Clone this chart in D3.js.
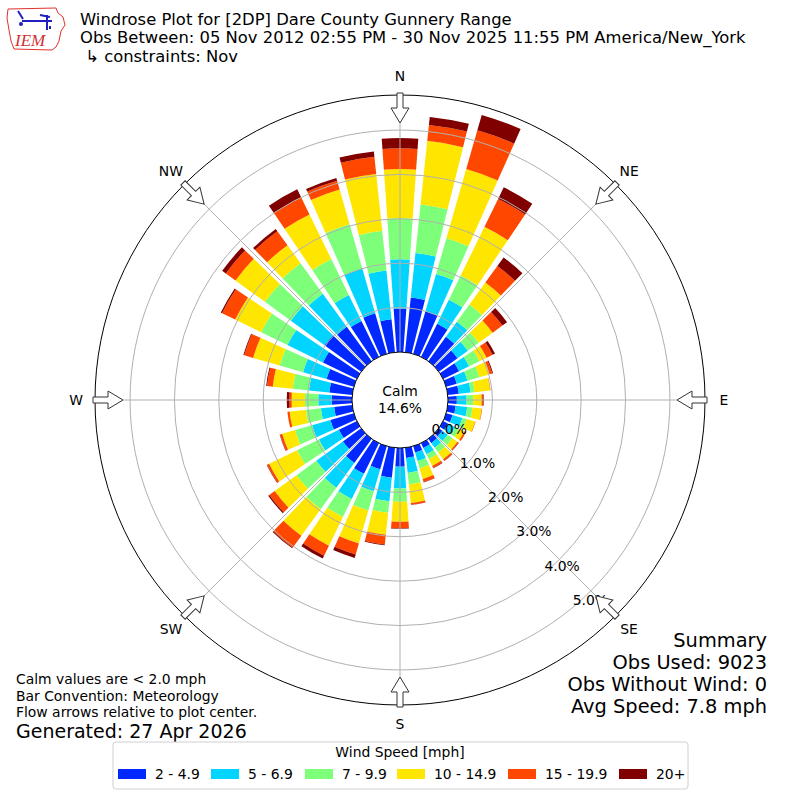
<!DOCTYPE html>
<html>
<head>
<meta charset="utf-8">
<script src="https://cdn.jsdelivr.net/npm/d3@7/dist/d3.min.js"></script>
<style>
  body { margin: 0; background: #fff; }
  svg { font-family: "DejaVu Sans", sans-serif; }
</style>
</head>
<body>
<div id="chart"></div>
<script>
// wind directions (deg, meteorological) and speed bins
const directions = d3.range(0, 360, 10);
const speedBins = ["2 - 4.9", "5 - 6.9", "7 - 9.9", "10 - 14.9", "15 - 19.9", "20+"];
const binColors = ["#0028ff", "#00d4ff", "#7dff7a", "#ffe600", "#ff4700", "#800000"];

// percent of obs per direction, one array per speed bin
const pct2to5   = [0.98,1.24,1.00,0.83,0.68,0.52,0.40,0.25,0.25,0.20,0.18,0.15,0.12,0.10,0.12,0.12,0.15,0.23,
                   0.42,0.68,0.54,0.77,0.67,0.51,0.45,0.55,0.41,0.46,0.52,0.64,0.85,1.02,0.96,0.90,0.95,0.75];
const pct5to7   = [1.11,1.01,0.87,0.60,0.42,0.29,0.25,0.25,0.27,0.22,0.26,0.23,0.18,0.15,0.13,0.16,0.20,0.34,
                   0.49,0.53,0.52,0.63,0.69,0.74,0.50,0.43,0.30,0.30,0.46,0.55,0.89,0.94,0.92,0.65,1.05,1.10];
const pct7to10  = [0.93,1.10,0.84,0.61,0.48,0.30,0.26,0.28,0.09,0.15,0.12,0.10,0.10,0.13,0.13,0.12,0.17,0.26,
                   0.30,0.26,0.45,0.45,0.60,0.55,0.55,0.40,0.34,0.30,0.37,0.55,0.66,0.72,0.85,0.90,1.04,0.90];
const pct10to15 = [1.10,1.44,1.62,1.22,0.61,0.39,0.18,0.24,0.35,0.19,0.21,0.20,0.13,0.14,0.19,0.17,0.25,0.42,
                   0.45,0.50,0.77,0.72,0.74,0.61,0.70,0.30,0.37,0.30,0.45,0.62,0.65,0.82,0.50,1.12,0.81,1.29];
const pct15to20 = [0.47,0.36,0.91,0.70,0.46,0.27,0.15,0.06,0.01,0.04,0.01,0.01,0.04,0.03,0.04,0.05,0.07,0.04,
                   0.15,0.22,0.26,0.25,0.33,0.15,0.05,0.05,0.05,0.05,0.13,0.21,0.33,0.27,0.39,0.43,0.21,0.39];
const pct20up   = [0.23,0.18,0.36,0.29,0.24,0.13,0.06,0.02,0.00,0.01,0.00,0.00,0.00,0.01,0.01,0.01,0.01,0.01,
                   0.01,0.02,0.08,0.07,0.02,0.03,0.01,0.01,0.00,0.06,0.02,0.02,0.03,0.10,0.06,0.20,0.06,0.12];

const ringTicks = [0, 1, 2, 3, 4, 5];
const compassLabels = ["N", "NE", "E", "SE", "S", "SW", "W", "NW"];
const titleLines = [
  "Windrose Plot for [2DP] Dare County Gunnery Range",
  "Obs Between: 05 Nov 2012 02:55 PM - 30 Nov 2025 11:55 PM America/New_York",
  " \u21b3 constraints: Nov"
];
const summaryLines = ["Summary", "Obs Used: 9023", "Obs Without Wind: 0", "Avg Speed: 7.8 mph"];
const noteLines = ["Calm values are < 2.0 mph", "Bar Convention: Meteorology", "Flow arrows relative to plot center."];
const calmPct = "14.6%";

const width = 800, height = 800, cx = 400, cy = 400;
const rad = d => d * Math.PI / 180;
const small = "13.9px";

const svg = d3.select("#chart").append("svg")
  .attr("width", width).attr("height", height);

// radial scale: calm circle is the zero ring
const r = d3.scaleLinear().domain([0, 5.79]).range([48, 305]);

const keys = ["b0", "b1", "b2", "b3", "b4", "b5"];
const series = [pct2to5, pct5to7, pct7to10, pct10to15, pct15to20, pct20up];
const rows = directions.map((dir, i) => {
  const o = {dir: dir};
  keys.forEach((k, j) => o[k] = series[j][i]);
  return o;
});
const stacked = d3.stack().keys(keys)(rows);

const g = svg.append("g").attr("transform", `translate(${cx},${cy})`);

const arc = d3.arc()
  .innerRadius(d => r(d[0]))
  .outerRadius(d => r(d[1]))
  .startAngle(d => rad(d.data.dir - 4))
  .endAngle(d => rad(d.data.dir + 4));

g.selectAll(".layer")
  .data(stacked)
  .join("g")
    .attr("class", "layer")
    .attr("fill", (d, i) => binColors[i])
  .selectAll("path")
  .data(d => d)
  .join("path")
    .attr("d", arc);

// grid on top of bars
g.selectAll(".ring")
  .data(ringTicks.filter(t => t > 0))
  .join("circle")
    .attr("class", "ring")
    .attr("r", d => r(d))
    .attr("fill", "none")
    .attr("stroke", "#b0b0b0")
    .attr("stroke-width", 1);

g.selectAll(".spoke")
  .data(d3.range(0, 360, 45))
  .join("line")
    .attr("class", "spoke")
    .attr("x1", 0).attr("y1", 0)
    .attr("x2", d => r.range()[1] * Math.sin(rad(d)))
    .attr("y2", d => -r.range()[1] * Math.cos(rad(d)))
    .attr("stroke", "#b0b0b0")
    .attr("stroke-width", 1);

g.append("circle")
  .attr("r", r.range()[1])
  .attr("fill", "none")
  .attr("stroke", "#000")
  .attr("stroke-width", 1);

// calm circle
g.append("circle")
  .attr("r", r(0))
  .attr("fill", "#fff")
  .attr("stroke", "#000")
  .attr("stroke-width", 1);

g.append("text")
  .attr("text-anchor", "middle")
  .attr("y", -9)
  .attr("dy", "0.35em")
  .style("font-size", small)
  .text("Calm");
g.append("text")
  .attr("text-anchor", "middle")
  .attr("y", 8)
  .attr("dy", "0.35em")
  .style("font-size", small)
  .text(calmPct);

// ring labels
const labAng = rad(140.5);
g.selectAll(".rlab")
  .data(ringTicks)
  .join("text")
    .attr("class", "rlab")
    .attr("x", d => r(d) * Math.sin(labAng) + 18.7)
    .attr("y", d => -r(d) * Math.cos(labAng) - 8.2)
    .attr("dy", "0.35em")
    .attr("text-anchor", "middle")
    .style("font-size", small)
    .text(d => d3.format(".1f")(d) + "%");

// compass labels
g.selectAll(".clab")
  .data(compassLabels)
  .join("text")
    .attr("class", "clab")
    .attr("x", (d, i) => 324 * Math.sin(rad(i * 45)))
    .attr("y", (d, i) => -324 * Math.cos(rad(i * 45)))
    .attr("dy", "0.35em")
    .attr("text-anchor", "middle")
    .style("font-size", small)
    .text(d => d);

// flow arrows pointing toward the center
const arrowShape = "M-3,-307 L3,-307 L3,-292 L9,-292 L0,-277 L-9,-292 L-3,-292 Z";
g.selectAll(".arrow")
  .data(d3.range(0, 360, 45))
  .join("path")
    .attr("class", "arrow")
    .attr("d", arrowShape)
    .attr("transform", d => `rotate(${d})`)
    .attr("fill", "#fff")
    .attr("stroke", "#333")
    .attr("stroke-width", 1);

// title
svg.selectAll(".title")
  .data(titleLines)
  .join("text")
    .attr("class", "title")
    .attr("x", 80)
    .attr("y", (d, i) => 25 + i * 18.3)
    .style("font-size", "16.4px")
    .attr("xml:space", "preserve")
    .text(d => d);

// IEM logo (rough)
const logo = svg.append("g");
logo.append("path")
  .attr("d", "M8,9 L56,8 L58,13 L63,17 L65,25 L61,31 L59,41 L56,47 L52,50 L14,49 L11,41 L9,30 L7,18 Z")
  .attr("fill", "none").attr("stroke", "#e03030").attr("stroke-width", 1);
logo.append("path")
  .attr("d", "M18,11 L23,19 M22,21 L52,21 M47,15 L47,30 M40,15 L50,17 M50,26 L50,29")
  .attr("fill", "none").attr("stroke", "#2020c0").attr("stroke-width", 2);
logo.append("circle").attr("cx", 21).attr("cy", 24).attr("r", 2).attr("fill", "#2020c0");
logo.append("text")
  .attr("x", 15).attr("y", 46)
  .style("font-family", "'Liberation Serif', serif")
  .style("font-style", "italic")
  .style("font-size", "17px")
  .attr("fill", "#d03030")
  .text("IEM");

// summary block
svg.selectAll(".summary")
  .data(summaryLines)
  .join("text")
    .attr("class", "summary")
    .attr("x", 767)
    .attr("y", (d, i) => 647 + i * 22)
    .attr("text-anchor", "end")
    .style("font-size", "19.4px")
    .text(d => d);

// notes
svg.selectAll(".note")
  .data(noteLines)
  .join("text")
    .attr("class", "note")
    .attr("x", 16)
    .attr("y", (d, i) => 684 + i * 16.5)
    .style("font-size", small)
    .text(d => d);
svg.append("text")
  .attr("x", 16).attr("y", 738)
  .style("font-size", "19px")
  .text("Generated: 27 Apr 2026");

// legend
const legend = svg.append("g");
legend.append("rect")
  .attr("x", 113).attr("y", 742).attr("width", 575).attr("height", 47)
  .attr("rx", 3)
  .attr("fill", "#fff").attr("stroke", "#d0d0d0");
legend.append("text")
  .attr("x", 400).attr("y", 757)
  .attr("text-anchor", "middle")
  .style("font-size", small)
  .text("Wind Speed [mph]");
const legX = [118, 211, 305, 397, 508, 619];
const item = legend.selectAll(".item")
  .data(speedBins)
  .join("g")
    .attr("class", "item")
    .attr("transform", (d, i) => `translate(${legX[i]},774)`);
item.append("rect")
  .attr("x", 0).attr("y", -5).attr("width", 28).attr("height", 10)
  .attr("fill", (d, i) => binColors[i]);
item.append("text")
  .attr("x", 37).attr("dy", "0.35em")
  .style("font-size", small)
  .text(d => d);
</script>
</body>
</html>
